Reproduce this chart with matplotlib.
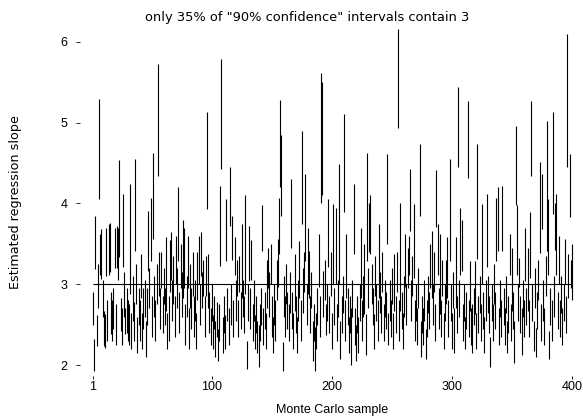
import matplotlib
matplotlib.use('Agg')
import matplotlib.pyplot as plt
import numpy as np

plt.rcParams['font.family'] = ['Liberation Sans', 'DejaVu Sans']

title = 'only 35% of "90% confidence" intervals contain 3'
x_label = 'Monte Carlo sample'
y_label = 'Estimated regression slope'
x_ticks = [1, 100, 200, 300, 400]
y_ticks = [2, 3, 4, 5, 6]
true_slope = 3

lower = [
    2.50, 1.93, 3.19, 2.24, 2.70, 4.05, 3.12, 3.06, 2.60, 2.24,
    2.21, 3.10, 2.30, 3.12, 3.15, 2.38, 2.30, 2.45, 3.20, 2.25,
    3.20, 3.05, 3.34, 2.42, 2.25, 3.21, 2.60, 2.38, 2.40, 2.30,
    2.25, 2.88, 2.20, 2.55, 2.30, 3.41, 2.75, 2.15, 2.50, 2.30,
    2.83, 2.20, 2.45, 2.60, 2.10, 2.50, 3.17, 2.70, 3.29, 2.35,
    3.56, 2.60, 2.30, 2.75, 4.34, 2.85, 2.45, 2.95, 2.40, 2.75,
    2.50, 2.67, 2.20, 2.30, 2.90, 3.05, 2.55, 2.75, 2.35, 3.00,
    2.70, 3.29, 2.40, 2.95, 2.60, 2.83, 2.95, 2.25, 2.60, 2.95,
    2.20, 2.70, 2.45, 2.85, 2.35, 2.55, 2.20, 2.80, 3.00, 2.50,
    3.10, 2.70, 2.85, 2.35, 2.85, 3.93, 2.71, 2.40, 2.25, 2.55,
    2.20, 2.45, 2.10, 2.35, 2.05, 2.30, 3.23, 4.43, 2.15, 2.40,
    2.20, 3.29, 2.55, 2.25, 3.72, 2.50, 3.30, 2.35, 3.12, 2.55,
    2.85, 2.35, 2.90, 2.45, 2.83, 2.60, 2.40, 2.88, 1.95, 2.55,
    3.04, 2.45, 3.05, 2.30, 2.55, 2.20, 2.40, 2.15, 1.98, 2.30,
    2.50, 3.41, 2.25, 2.45, 2.20, 2.70, 2.95, 2.60, 3.00, 2.35,
    2.15, 2.50, 2.30, 2.80, 2.96, 3.37, 4.20, 3.85, 1.93, 2.60,
    2.35, 2.75, 2.45, 2.30, 2.65, 3.45, 2.45, 2.20, 2.67, 2.40,
    2.15, 2.55, 2.83, 2.30, 3.74, 2.65, 2.90, 3.29, 2.50, 2.88,
    2.83, 2.40, 2.70, 2.05, 2.30, 1.93, 2.20, 2.50, 2.96, 2.35,
    4.01, 4.10, 2.60, 2.80, 2.37, 2.55, 3.21, 2.40, 2.85, 2.20,
    3.00, 2.50, 3.00, 2.30, 2.60, 3.00, 2.07, 2.40, 2.65, 3.89,
    2.30, 2.83, 2.50, 2.15, 2.40, 2.00, 2.60, 3.37, 2.25, 2.05,
    2.40, 2.15, 2.55, 2.83, 2.30, 2.60, 2.63, 2.13, 3.29, 2.70,
    3.40, 3.37, 2.75, 2.50, 2.20, 2.85, 2.55, 2.30, 2.83, 2.65,
    2.40, 2.90, 2.30, 2.60, 2.45, 3.50, 2.25, 2.55, 2.35, 2.75,
    2.20, 2.67, 2.40, 2.90, 4.94, 2.30, 2.67, 2.45, 2.20, 2.60,
    2.96, 2.50, 2.95, 3.12, 3.66, 2.55, 2.85, 3.08, 2.30, 2.55,
    2.25, 2.70, 3.85, 2.10, 2.40, 2.25, 2.55, 2.07, 2.35, 2.65,
    2.45, 2.95, 2.83, 2.50, 2.90, 2.30, 3.71, 3.12, 2.45, 2.63,
    2.35, 2.85, 2.20, 2.55, 2.75, 2.83, 2.35, 3.29, 2.55, 2.20,
    2.70, 2.15, 2.71, 2.40, 4.45, 2.60, 3.12, 3.16, 2.30, 2.55,
    2.20, 2.45, 4.32, 2.35, 2.67, 2.25, 2.15, 2.50, 2.63, 2.20,
    3.31, 2.40, 2.65, 2.30, 3.00, 2.45, 2.15, 2.55, 3.21, 2.65,
    2.40, 1.98, 2.55, 2.30, 2.75, 2.45, 3.29, 3.41, 2.25, 2.60,
    2.35, 3.41, 2.50, 2.25, 2.65, 2.15, 2.40, 3.12, 2.30, 2.67,
    2.45, 2.03, 3.98, 3.12, 2.55, 2.96, 2.40, 2.13, 2.60, 2.35,
    3.04, 2.50, 2.67, 2.35, 3.08, 4.34, 2.55, 2.17, 2.70, 2.10,
    2.45, 2.80, 3.39, 2.30, 3.68, 2.55, 2.25, 2.85, 3.41, 3.12,
    2.07, 2.50, 2.30, 3.87, 2.60, 3.42, 3.12, 2.45, 3.00, 2.35,
    2.65, 2.25, 2.55, 3.00, 2.40, 4.45, 2.83, 3.83, 2.95, 2.80,
]

upper = [
    2.90, 2.32, 3.85, 2.62, 3.25, 5.29, 3.62, 3.68, 3.05, 2.67,
    2.63, 3.70, 2.80, 3.74, 3.76, 2.90, 2.80, 2.95, 3.70, 2.75,
    3.72, 3.70, 4.54, 2.83, 2.70, 4.12, 3.15, 2.71, 2.95, 2.80,
    2.75, 4.24, 2.65, 3.10, 2.78, 4.55, 3.25, 2.60, 2.95, 2.80,
    3.37, 2.65, 2.95, 3.05, 2.55, 2.95, 3.91, 3.20, 4.07, 2.85,
    4.63, 3.10, 2.80, 3.25, 5.73, 3.40, 2.95, 3.40, 2.85, 3.20,
    2.95, 3.58, 2.65, 2.85, 3.55, 3.65, 3.05, 3.35, 2.85, 3.60,
    3.20, 4.20, 2.90, 3.50, 3.15, 3.79, 3.70, 2.75, 3.10, 3.60,
    2.70, 3.25, 2.95, 3.40, 2.85, 3.05, 2.65, 3.40, 3.60, 3.00,
    3.65, 3.15, 3.30, 2.85, 3.35, 5.13, 3.37, 2.90, 2.70, 3.00,
    2.62, 2.85, 2.55, 2.78, 2.45, 2.75, 4.22, 5.79, 2.60, 2.85,
    2.62, 4.05, 2.95, 2.70, 4.45, 3.00, 3.85, 2.80, 3.58, 3.05,
    3.30, 2.80, 3.35, 2.90, 3.74, 3.05, 2.85, 4.10, 2.30, 3.00,
    3.72, 2.95, 3.55, 2.75, 3.05, 2.62, 2.85, 2.55, 2.50, 2.75,
    2.95, 3.98, 2.70, 2.90, 2.65, 3.30, 3.45, 3.15, 3.50, 2.85,
    2.60, 3.00, 2.80, 3.30, 3.56, 4.07, 5.28, 4.85, 2.28, 3.10,
    2.85, 3.25, 2.90, 2.75, 3.15, 4.30, 2.90, 2.65, 3.37, 2.85,
    2.60, 3.05, 3.54, 2.80, 4.90, 3.20, 3.40, 4.36, 3.00, 3.70,
    3.41, 2.85, 3.15, 2.55, 2.75, 2.47, 2.65, 2.95, 3.62, 2.85,
    5.62, 5.50, 3.16, 3.30, 2.75, 3.00, 4.05, 2.85, 3.40, 2.65,
    3.99, 2.95, 3.95, 2.75, 3.05, 4.49, 2.55, 2.85, 3.10, 5.11,
    2.80, 3.62, 2.95, 2.60, 2.85, 2.71, 3.05, 4.24, 2.70, 2.50,
    2.85, 2.60, 3.00, 3.70, 2.80, 3.10, 3.50, 2.63, 4.63, 3.20,
    4.00, 4.11, 3.25, 2.95, 2.63, 3.35, 3.00, 2.80, 3.75, 3.15,
    2.85, 3.40, 2.75, 3.05, 2.90, 4.61, 2.65, 3.05, 2.80, 3.20,
    2.65, 3.37, 2.85, 3.40, 6.16, 2.80, 4.01, 2.90, 2.65, 3.10,
    3.62, 3.00, 3.45, 3.60, 4.43, 3.05, 3.35, 3.99, 2.80, 3.00,
    2.70, 3.20, 4.74, 2.55, 2.85, 2.70, 3.05, 2.45, 2.80, 3.10,
    2.90, 3.50, 3.66, 3.00, 3.40, 2.75, 4.41, 3.75, 2.95, 3.62,
    2.80, 3.30, 2.65, 3.00, 3.30, 3.58, 2.80, 4.55, 3.00, 2.65,
    3.15, 2.71, 3.58, 2.85, 5.44, 3.05, 3.95, 3.80, 2.75, 3.00,
    2.60, 2.90, 5.27, 2.80, 3.29, 2.70, 2.75, 2.95, 3.29, 2.65,
    4.74, 2.85, 3.10, 2.75, 3.99, 2.90, 2.60, 3.05, 4.12, 3.10,
    2.85, 2.35, 3.00, 2.75, 3.25, 2.90, 4.07, 4.20, 2.70, 3.05,
    2.80, 4.22, 2.95, 2.70, 3.10, 2.55, 2.85, 3.62, 2.75, 3.45,
    2.90, 2.55, 4.96, 3.98, 3.00, 3.33, 2.85, 2.71, 3.05, 2.80,
    3.70, 2.95, 3.45, 2.80, 3.89, 5.27, 3.00, 2.55, 3.20, 2.46,
    2.90, 3.30, 4.51, 2.75, 4.36, 3.05, 2.70, 3.35, 5.02, 4.05,
    2.42, 2.95, 2.80, 5.13, 3.10, 4.00, 4.12, 2.90, 3.60, 2.80,
    3.10, 2.70, 3.00, 3.56, 2.85, 6.10, 3.37, 4.61, 3.30, 3.50,
]

samples = np.arange(1, len(lower) + 1)

W, H = 583, 419
fig = plt.figure(figsize=(W / 100, H / 100), dpi=100)
left_px, right_px, top_px, bottom_px = 80, 580, 20, 376
ax = fig.add_axes([left_px / W, (H - bottom_px) / H,
                   (right_px - left_px) / W, (bottom_px - top_px) / H])

ax.vlines(samples, lower, upper, color='black', lw=0.8)
ax.hlines(true_slope, samples[0], samples[-1], color='black', lw=0.8)

# data-to-pixel mapping: sample 1 -> x=93, 400 -> x=572; value 2 -> y=365, 6 -> y=42
px_per_s = (572 - 93) / 399
px_per_v = (365 - 42) / 4
ax.set_xlim(1 - (93 - left_px) / px_per_s, 1 + (right_px - 93) / px_per_s)
ax.set_ylim(2 - (bottom_px - 365) / px_per_v, 2 + (365 - top_px) / px_per_v)
for sp in ax.spines.values():
    sp.set_visible(False)
ax.set_xticks(x_ticks)
ax.set_yticks(y_ticks)
ax.tick_params(axis='y', direction='out', length=3, width=0.6,
               labelsize=9, pad=6)
ax.tick_params(axis='x', direction='out', length=2, width=0.6,
               labelsize=9, pad=1.5)

wide = ['DejaVu Sans']
fig.text(307 / W, 1 - 17 / H, title, ha='center', va='center',
         fontsize=9.4, family=wide)
fig.text(332 / W, 1 - 410 / H, x_label, ha='center', va='center', fontsize=9)
fig.text(16 / W, 1 - 202 / H, y_label, ha='center', va='center',
         rotation=90, fontsize=9.2, family=wide)

fig.savefig('out.png', dpi=100)
